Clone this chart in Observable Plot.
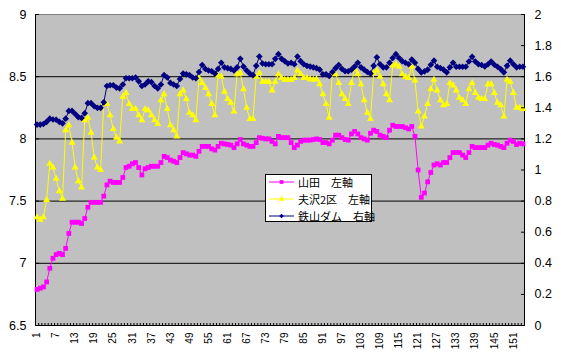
<!DOCTYPE html>
<html><head><meta charset="utf-8">
<script src="https://cdn.jsdelivr.net/npm/d3@7"></script>
<script src="https://cdn.jsdelivr.net/npm/@observablehq/plot@0.6"></script>
<style>
body{margin:0;background:#fff;}
#wrap{position:relative;width:561px;height:362px;}
#legend{position:absolute;left:265px;top:174px;width:105px;height:46px;border:1px solid #000;background:#fff;font-family:"Noto Sans CJK JP","Noto Sans",sans-serif;font-size:11px;color:#000;}
.row{position:absolute;left:2px;height:16px;display:flex;align-items:center;white-space:nowrap;}
.row svg{margin-right:3px;}
</style></head><body><div id="wrap"></div>
<script>
// 山田 (left axis)
const yamada = [6.79,6.80,6.81,6.85,6.96,7.04,7.07,7.08,7.07,7.12,7.24,7.33,7.33,7.33,7.32,7.36,7.45,7.49,7.49,7.49,7.49,7.54,7.63,7.66,7.65,7.65,7.65,7.69,7.77,7.78,7.80,
 7.81,7.77,7.71,7.76,7.77,7.78,7.78,7.78,7.81,7.86,7.85,7.83,7.82,7.81,7.85,7.89,7.88,7.87,7.87,7.86,7.90,7.94,7.94,7.94,7.92,7.91,7.94,7.965,7.96,
 7.955,7.95,7.93,7.96,7.995,7.96,7.95,7.94,7.94,7.97,8.01,8.005,8.00,8.00,7.98,7.96,8.02,8.01,8.01,8.01,7.97,7.93,7.95,7.98,7.99,7.99,7.99,7.995,8.00,7.995,7.97,
 7.97,7.96,7.99,8.03,8.03,8.01,7.995,7.99,8.04,8.06,8.04,8.01,8.00,7.99,8.045,8.07,8.06,8.03,8.02,8.01,8.07,8.11,8.10,8.10,8.10,8.09,8.08,8.10,8.02,
 7.75,7.53,7.565,7.655,7.73,7.79,7.80,7.79,7.81,7.81,7.85,7.89,7.89,7.89,7.87,7.85,7.89,7.94,7.93,7.93,7.93,7.93,7.95,7.965,7.955,7.95,7.94,7.93,7.965,7.99,7.98,7.955,7.965,7.96];
// 夫沢2区 (left axis)
const futazawa = [7.37,7.35,7.37,7.51,7.80,7.77,7.68,7.58,7.52,8.07,8.11,7.97,7.77,7.66,7.61,8.15,8.17,8.05,7.85,7.77,7.75,8.29,8.28,8.19,8.08,8.01,7.98,8.34,8.37,8.28,8.24,
 8.24,8.19,8.15,8.24,8.23,8.19,8.15,8.12,8.31,8.36,8.24,8.11,8.07,8.02,8.36,8.39,8.32,8.21,8.19,8.15,8.49,8.45,8.41,8.36,8.28,8.19,8.51,8.50,8.38,
 8.32,8.29,8.22,8.52,8.53,8.40,8.25,8.16,8.16,8.50,8.53,8.46,8.46,8.46,8.39,8.46,8.52,8.49,8.475,8.475,8.475,8.49,8.55,8.52,8.49,8.49,8.48,8.475,8.48,8.44,8.36,
 8.28,8.17,8.53,8.52,8.45,8.36,8.32,8.28,8.45,8.56,8.52,8.44,8.31,8.21,8.16,8.53,8.55,8.50,8.44,8.36,8.31,8.59,8.60,8.58,8.52,8.50,8.49,8.58,8.47,8.22,8.10,
 8.18,8.28,8.40,8.475,8.39,8.31,8.27,8.28,8.45,8.43,8.39,8.33,8.31,8.28,8.40,8.45,8.37,8.33,8.32,8.32,8.44,8.44,8.37,8.29,8.27,8.18,8.475,8.46,8.37,8.25,8.25,8.24];
// 鉄山ダム (right axis)
const tetsuyama = [1.292,1.292,1.296,1.31,1.33,1.325,1.323,1.31,1.30,1.33,1.38,1.38,1.36,1.34,1.335,1.365,1.43,1.43,1.41,1.40,1.40,1.435,1.54,1.545,1.545,1.53,1.525,1.55,1.59,1.59,1.59,
 1.595,1.57,1.54,1.55,1.57,1.565,1.54,1.525,1.55,1.61,1.595,1.56,1.55,1.54,1.585,1.62,1.615,1.61,1.595,1.59,1.63,1.675,1.65,1.64,1.635,1.62,1.65,1.69,1.66,
 1.655,1.65,1.64,1.66,1.715,1.665,1.64,1.62,1.61,1.67,1.73,1.685,1.68,1.68,1.68,1.715,1.745,1.715,1.70,1.685,1.69,1.68,1.73,1.70,1.68,1.67,1.665,1.66,1.655,1.645,1.615,
 1.615,1.605,1.63,1.655,1.675,1.65,1.635,1.635,1.645,1.665,1.69,1.66,1.645,1.63,1.62,1.67,1.725,1.68,1.66,1.66,1.69,1.72,1.745,1.72,1.70,1.69,1.68,1.71,1.69,1.65,
 1.628,1.634,1.645,1.677,1.703,1.664,1.656,1.645,1.628,1.66,1.69,1.664,1.664,1.664,1.664,1.698,1.728,1.698,1.68,1.675,1.666,1.68,1.698,1.677,1.664,1.649,1.628,1.67,1.703,1.68,1.66,1.664,1.664];

const categories = yamada.map((_, i) => i + 1);
const xTickLabels = [1,7,13,19,25,31,37,43,49,55,61,67,73,79,85,91,97,103,109,115,121,127,133,139,145,151];
const leftTicks = [6.5,7,7.5,8,8.5,9];
const gridValues = [7,7.5,8,8.5];
const rightTicks = [0,0.2,0.4,0.6,0.8,1,1.2,1.4,1.6,1.8,2];
const leftDomain = [6.5, 9];
const rightDomain = [0, 2];
const seriesNames = ["山田　左軸", "夫沢2区　左軸", "鉄山ダム　右軸"];
const seriesColors = ["#FF00FF", "#FFFF00", "#000080"];

// map right-axis values onto the left (plot) scale
const k = (leftDomain[1] - leftDomain[0]) / (rightDomain[1] - rightDomain[0]);
const toLeft = v => leftDomain[0] + (v - rightDomain[0]) * k;
const fromLeft = y => rightDomain[0] + (y - leftDomain[0]) / k;

const rows = categories.map((c, i) => ({c, yamada: yamada[i], futazawa: futazawa[i], tetsuyama: toLeft(tetsuyama[i])}));
const boundaries = categories.map(c => c - 0.5).concat([categories.length + 0.5]);
const xDomain = [0.5, categories.length + 0.5];

const chart = Plot.plot({
  width: 561, height: 362,
  marginLeft: 35, marginRight: 37, marginTop: 14, marginBottom: 37,
  style: {fontFamily: "'Liberation Sans', Arial, sans-serif", fontSize: "12.5px", background: "white", color: "black"},
  x: {type: "linear", domain: xDomain, label: null},
  y: {domain: leftDomain, label: null},
  marks: [
    Plot.frame({fill: "#C0C0C0", stroke: "none"}),
    Plot.ruleY(gridValues, {stroke: "black", strokeWidth: 1}),
    Plot.ruleY([leftDomain[1]], {stroke: "#808080"}),
    Plot.ruleY([leftDomain[0]], {stroke: "black"}),
    Plot.ruleX(xDomain, {stroke: "black"}),
    Plot.line(rows, {x: "c", y: "yamada", stroke: seriesColors[0], strokeWidth: 1}),
    Plot.dot(rows, {x: "c", y: "yamada", symbol: "square", r: 2.7, fill: seriesColors[0], stroke: "none"}),
    Plot.line(rows, {x: "c", y: "futazawa", stroke: seriesColors[1], strokeWidth: 1}),
    Plot.dot(rows, {x: "c", y: "futazawa", symbol: "triangle", r: 2.6, fill: seriesColors[1], stroke: "none"}),
    Plot.line(rows, {x: "c", y: "tetsuyama", stroke: seriesColors[2], strokeWidth: 1}),
    Plot.dot(rows, {x: "c", y: "tetsuyama", symbol: "diamond2", r: 3, fill: seriesColors[2], stroke: "none"}),
    Plot.axisY(leftTicks, {anchor: "left", tickSize: 0, tickPadding: 9, label: null, tickFormat: d => String(d)}),
    Plot.axisY(leftTicks, {anchor: "left", tickSize: 4, dx: 4, label: null, tickFormat: () => ""}),
    Plot.axisY(rightTicks.map(toLeft), {anchor: "right", tickSize: 0, tickPadding: 10, label: null, tickFormat: d => String(+fromLeft(d).toFixed(1))}),
    Plot.axisY(rightTicks.map(toLeft), {anchor: "right", tickSize: 4, dx: -4, label: null, tickFormat: () => ""}),
    Plot.axisX(xTickLabels, {anchor: "bottom", tickSize: 0, tickPadding: 7, tickRotate: -90, fontSize: 10, label: null}),
    Plot.axisX(boundaries, {anchor: "bottom", tickSize: 2, dy: -2, label: null, tickFormat: () => ""})
  ]
});
const wrap = document.getElementById("wrap");
wrap.appendChild(chart);

// legend
const legend = document.createElement("div");
legend.id = "legend";
const symbols = [d3.symbolSquare, d3.symbolTriangle, d3.symbolDiamond2];
seriesNames.forEach((name, i) => {
  const row = document.createElement("div");
  row.className = "row";
  row.style.top = (i * 17 - 1) + "px";
  const path = d3.symbol(symbols[i], 14)();
  row.innerHTML = `<svg width="27" height="10"><line x1="1" x2="26" y1="5" y2="5" stroke="${seriesColors[i]}" stroke-width="1"/><path transform="translate(13.5,5)" d="${path}" fill="${seriesColors[i]}"/></svg><span>${name}</span>`;
  legend.appendChild(row);
});
wrap.appendChild(legend);
</script>
</body></html>
